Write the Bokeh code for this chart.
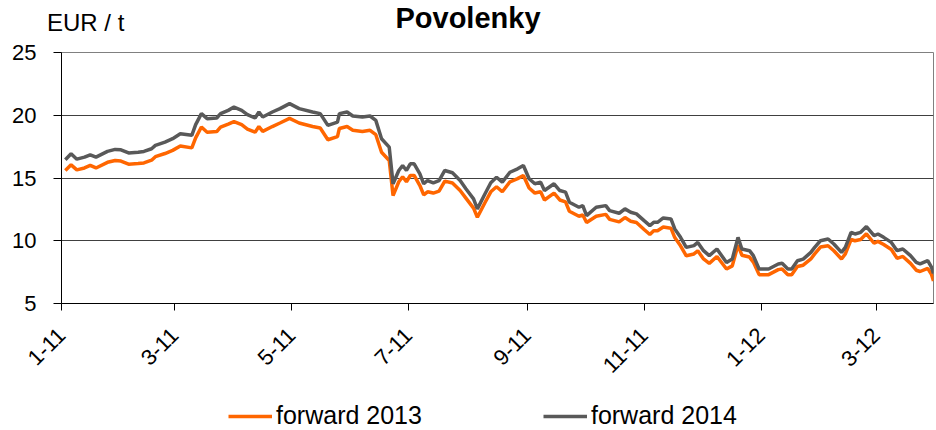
import calendar
import datetime as dt
from math import pi

from bokeh.plotting import figure
from bokeh.layouts import column
from bokeh.models import Range1d, FixedTicker, Legend, LegendItem, ColumnDataSource, Div
from bokeh.embed import file_html
from bokeh.resources import INLINE

# ---------------- data ----------------
dates = [
    "2011-01-03", "2011-01-06", "2011-01-09", "2011-01-13", "2011-01-16", "2011-01-19",
    "2011-01-25", "2011-01-29", "2011-02-01", "2011-02-05", "2011-02-10", "2011-02-13",
    "2011-02-17", "2011-02-19", "2011-02-24", "2011-02-28", "2011-03-04", "2011-03-10",
    "2011-03-12", "2011-03-15", "2011-03-18", "2011-03-23", "2011-03-25", "2011-03-29",
    "2011-04-01", "2011-04-05", "2011-04-08", "2011-04-12", "2011-04-14", "2011-04-16",
    "2011-04-21", "2011-04-25", "2011-04-30", "2011-05-05", "2011-05-12", "2011-05-16",
    "2011-05-20", "2011-05-25", "2011-05-26", "2011-05-30", "2011-06-02", "2011-06-07",
    "2011-06-11", "2011-06-14", "2011-06-17", "2011-06-21", "2011-06-23", "2011-06-26",
    "2011-06-28", "2011-06-30", "2011-07-02", "2011-07-04", "2011-07-07", "2011-07-09",
    "2011-07-11", "2011-07-14", "2011-07-17", "2011-07-20", "2011-07-24", "2011-07-28",
    "2011-07-31", "2011-08-04", "2011-08-06", "2011-08-10", "2011-08-13", "2011-08-16",
    "2011-08-19", "2011-08-23", "2011-08-27", "2011-08-30", "2011-09-02", "2011-09-05",
    "2011-09-08", "2011-09-10", "2011-09-15", "2011-09-18", "2011-09-21", "2011-09-23",
    "2011-09-28", "2011-09-30", "2011-10-02", "2011-10-07", "2011-10-12", "2011-10-14",
    "2011-10-19", "2011-10-22", "2011-10-25", "2011-10-28", "2011-11-01", "2011-11-04",
    "2011-11-06", "2011-11-08", "2011-11-11", "2011-11-15", "2011-11-17", "2011-11-20",
    "2011-11-23", "2011-11-27", "2011-11-29", "2011-12-02", "2011-12-05", "2011-12-09",
    "2011-12-14", "2011-12-17", "2011-12-20", "2011-12-22", "2011-12-26", "2011-12-28",
    "2011-12-31", "2012-01-05", "2012-01-10", "2012-01-12", "2012-01-15", "2012-01-17",
    "2012-01-20", "2012-01-23", "2012-01-27", "2012-01-29", "2012-02-01", "2012-02-05",
    "2012-02-08", "2012-02-12", "2012-02-14", "2012-02-17", "2012-02-19", "2012-02-22",
    "2012-02-25", "2012-02-29", "2012-03-02", "2012-03-05", "2012-03-09", "2012-03-12",
    "2012-03-15", "2012-03-19", "2012-03-22", "2012-03-24", "2012-03-28", "2012-03-30",
    "2012-03-31",
]

forward_2014 = [
    16.45, 16.93, 16.50, 16.66, 16.85, 16.66,
    17.12, 17.28, 17.25, 17.00, 17.06, 17.12,
    17.33, 17.60, 17.86, 18.13, 18.53, 18.40,
    19.25, 20.13, 19.73, 19.78, 20.13, 20.39,
    20.65, 20.39, 20.05, 19.78, 20.26, 19.86,
    20.26, 20.53, 20.93, 20.53, 20.26, 20.13,
    19.19, 19.46, 20.13, 20.26, 19.94, 19.86,
    19.94, 19.59, 18.13, 17.46, 14.54, 15.60,
    16.00, 15.60, 16.13, 16.13, 15.33, 14.54,
    14.80, 14.62, 14.80, 15.60, 15.42, 14.80,
    14.14, 13.34, 12.54, 13.74, 14.62, 15.06,
    14.67, 15.46, 15.73, 16.00, 14.94, 14.54,
    14.67, 14.00, 14.54, 14.00, 13.87, 13.07,
    12.67, 12.80, 12.00, 12.67, 12.80, 12.40,
    12.19, 12.54, 12.27, 12.14, 11.60, 11.21,
    11.47, 11.47, 11.82, 11.74, 10.94, 10.27,
    9.47, 9.61, 9.87, 9.21, 8.81, 9.34,
    8.27, 8.54, 10.27, 9.34, 9.21, 8.81,
    7.75, 7.75, 8.15, 8.20, 7.75, 7.75,
    8.41, 8.54, 9.07, 9.47, 10.00, 10.14,
    9.74, 9.07, 9.47, 10.67, 10.54, 10.67,
    11.13, 10.40, 10.54, 10.27, 9.87, 9.21,
    9.34, 8.81, 8.27, 8.15, 8.41, 7.88,
    7.40,
]

forward_2013 = [
    15.60, 16.05, 15.65, 15.80, 16.00, 15.80,
    16.25, 16.40, 16.35, 16.10, 16.15, 16.20,
    16.42, 16.70, 16.95, 17.20, 17.55, 17.40,
    18.20, 19.06, 18.65, 18.70, 19.05, 19.30,
    19.50, 19.25, 18.90, 18.65, 19.10, 18.72,
    19.10, 19.38, 19.75, 19.38, 19.10, 18.98,
    18.05, 18.30, 18.95, 19.10, 18.80, 18.70,
    18.80, 18.45, 17.05, 16.40, 13.60, 14.70,
    15.10, 14.70, 15.20, 15.20, 14.40, 13.65,
    13.90, 13.80, 13.95, 14.75, 14.60, 14.00,
    13.40, 12.60, 11.87, 13.05, 13.90, 14.30,
    13.90, 14.70, 14.95, 15.20, 14.20, 13.80,
    13.90, 13.25, 13.80, 13.25, 13.10, 12.35,
    11.95, 12.05, 11.45, 11.95, 12.10, 11.70,
    11.50, 11.85, 11.55, 11.45, 10.90, 10.50,
    10.80, 10.80, 11.10, 11.00, 10.25, 9.60,
    8.80, 8.95, 9.20, 8.55, 8.20, 8.75,
    7.75, 8.00, 9.65, 8.85, 8.70, 8.30,
    7.30, 7.30, 7.70, 7.75, 7.30, 7.30,
    7.95, 8.05, 8.55, 8.95, 9.50, 9.60,
    9.20, 8.55, 8.95, 10.10, 10.00, 10.10,
    10.55, 9.80, 9.95, 9.70, 9.30, 8.60,
    8.75, 8.20, 7.65, 7.55, 7.80, 7.30,
    6.80,
]

tick_dates = ["2011-01-01", "2011-03-01", "2011-05-01", "2011-07-01",
              "2011-09-01", "2011-11-01", "2012-01-01", "2012-03-01"]
tick_labels = ["1-11", "3-11", "5-11", "7-11", "9-11", "11-11", "1-12", "3-12"]

y_ticks = [5, 10, 15, 20, 25]

title_text = "Povolenky"
unit_text = "EUR / t"
series_names = ["forward 2013", "forward 2014"]


def to_dt(s):
    return dt.datetime.strptime(s, "%Y-%m-%d")


def to_ms(s):
    return calendar.timegm(to_dt(s).timetuple()) * 1000.0


FONT = "Liberation Sans"
ORANGE = "#FF6600"
GREY = "#595959"
W = 936

# ---------------- header (title + unit) ----------------
HEAD_H = 36
head_html = (
    '<div style="position:relative;width:%dpx;height:%dpx;margin:0;padding:0;'
    'font-family:\'Liberation Sans\',Arial,sans-serif;color:#000;">'
    '<span style="position:absolute;left:47px;top:9px;font-size:24px;line-height:28px;'
    'white-space:nowrap;">%s</span>'
    '<span style="position:absolute;left:0;top:1px;width:%dpx;text-align:center;'
    'font-size:29px;font-weight:bold;line-height:34px;white-space:nowrap;">%s</span>'
    '</div>' % (W, HEAD_H, unit_text, W, title_text)
)
head = Div(text=head_html, width=W, height=HEAD_H, margin=0)

# ---------------- main chart ----------------
source = ColumnDataSource(dict(
    date=[to_dt(d) for d in dates],
    f13=forward_2013,
    f14=forward_2014,
))

p = figure(
    x_axis_type="datetime",
    frame_width=872, frame_height=251,
    min_border_left=61, min_border_right=3, min_border_top=16, min_border_bottom=97,
    x_range=Range1d(to_dt("2011-01-01"), to_dt("2012-03-31")), y_range=Range1d(5, 25),
    output_backend="svg", toolbar_location=None,
    background_fill_color="white", border_fill_color="white",
)

r13 = p.line("date", "f13", source=source, line_color=ORANGE, line_width=3.5)
r14 = p.line("date", "f14", source=source, line_color=GREY, line_width=3.5)

p.xaxis.ticker = FixedTicker(ticks=[to_ms(d) for d in tick_dates])
p.xaxis.major_label_overrides = {to_ms(d): lab for d, lab in zip(tick_dates, tick_labels)}
p.xaxis.major_label_orientation = pi / 4
p.yaxis.ticker = FixedTicker(ticks=y_ticks)

for ax in (p.xaxis[0], p.yaxis[0]):
    ax.axis_line_color = "black"
    ax.axis_line_width = 1
    ax.major_tick_line_color = "black"
    ax.major_tick_in = 0
    ax.minor_tick_line_color = None
    ax.major_label_text_font = FONT
    ax.major_label_text_font_size = "22px"
    ax.major_label_text_color = "black"

p.yaxis.major_tick_out = 8
p.yaxis.major_label_standoff = 17
p.xaxis.major_tick_out = 7
p.xaxis.major_label_standoff = 21

p.xgrid.grid_line_color = None
p.ygrid.ticker = FixedTicker(ticks=y_ticks)
p.ygrid.grid_line_color = "#404040"
p.ygrid.grid_line_width = 1

p.outline_line_color = "#808080"
p.outline_line_width = 1

# ---------------- footer (legend) ----------------
# The footer's frame is aligned with the main chart's frame (x from 61 to 933).
FOOT_H = 30
foot = figure(width=W, height=FOOT_H, x_range=Range1d(0, 1), y_range=Range1d(0, 1),
              min_border=0, x_axis_location=None, y_axis_location=None,
              outline_line_color=None, toolbar_location=None, output_backend="svg",
              background_fill_color="white", border_fill_color="white")
foot.grid.grid_line_color = None
nan = float("nan")
k13 = foot.line(x=[nan], y=[nan], line_color=ORANGE, line_width=3.5)
k14 = foot.line(x=[nan], y=[nan], line_color=GREY, line_width=3.5)
legend = Legend(
    items=[LegendItem(label=series_names[0], renderers=[k13]),
           LegendItem(label=series_names[1], renderers=[k14])],
    orientation="horizontal", location=(167, 0),
    glyph_width=44, glyph_height=24, label_standoff=4, spacing=121,
    padding=0, margin=0, border_line_alpha=0, background_fill_alpha=0,
    label_text_font=FONT, label_text_font_size="25px", label_text_color="black",
    label_height=24,
)
foot.add_layout(legend, "center")

layout = column(head, p, foot, spacing=0)
open("out.html", "w").write(file_html(layout, INLINE))
